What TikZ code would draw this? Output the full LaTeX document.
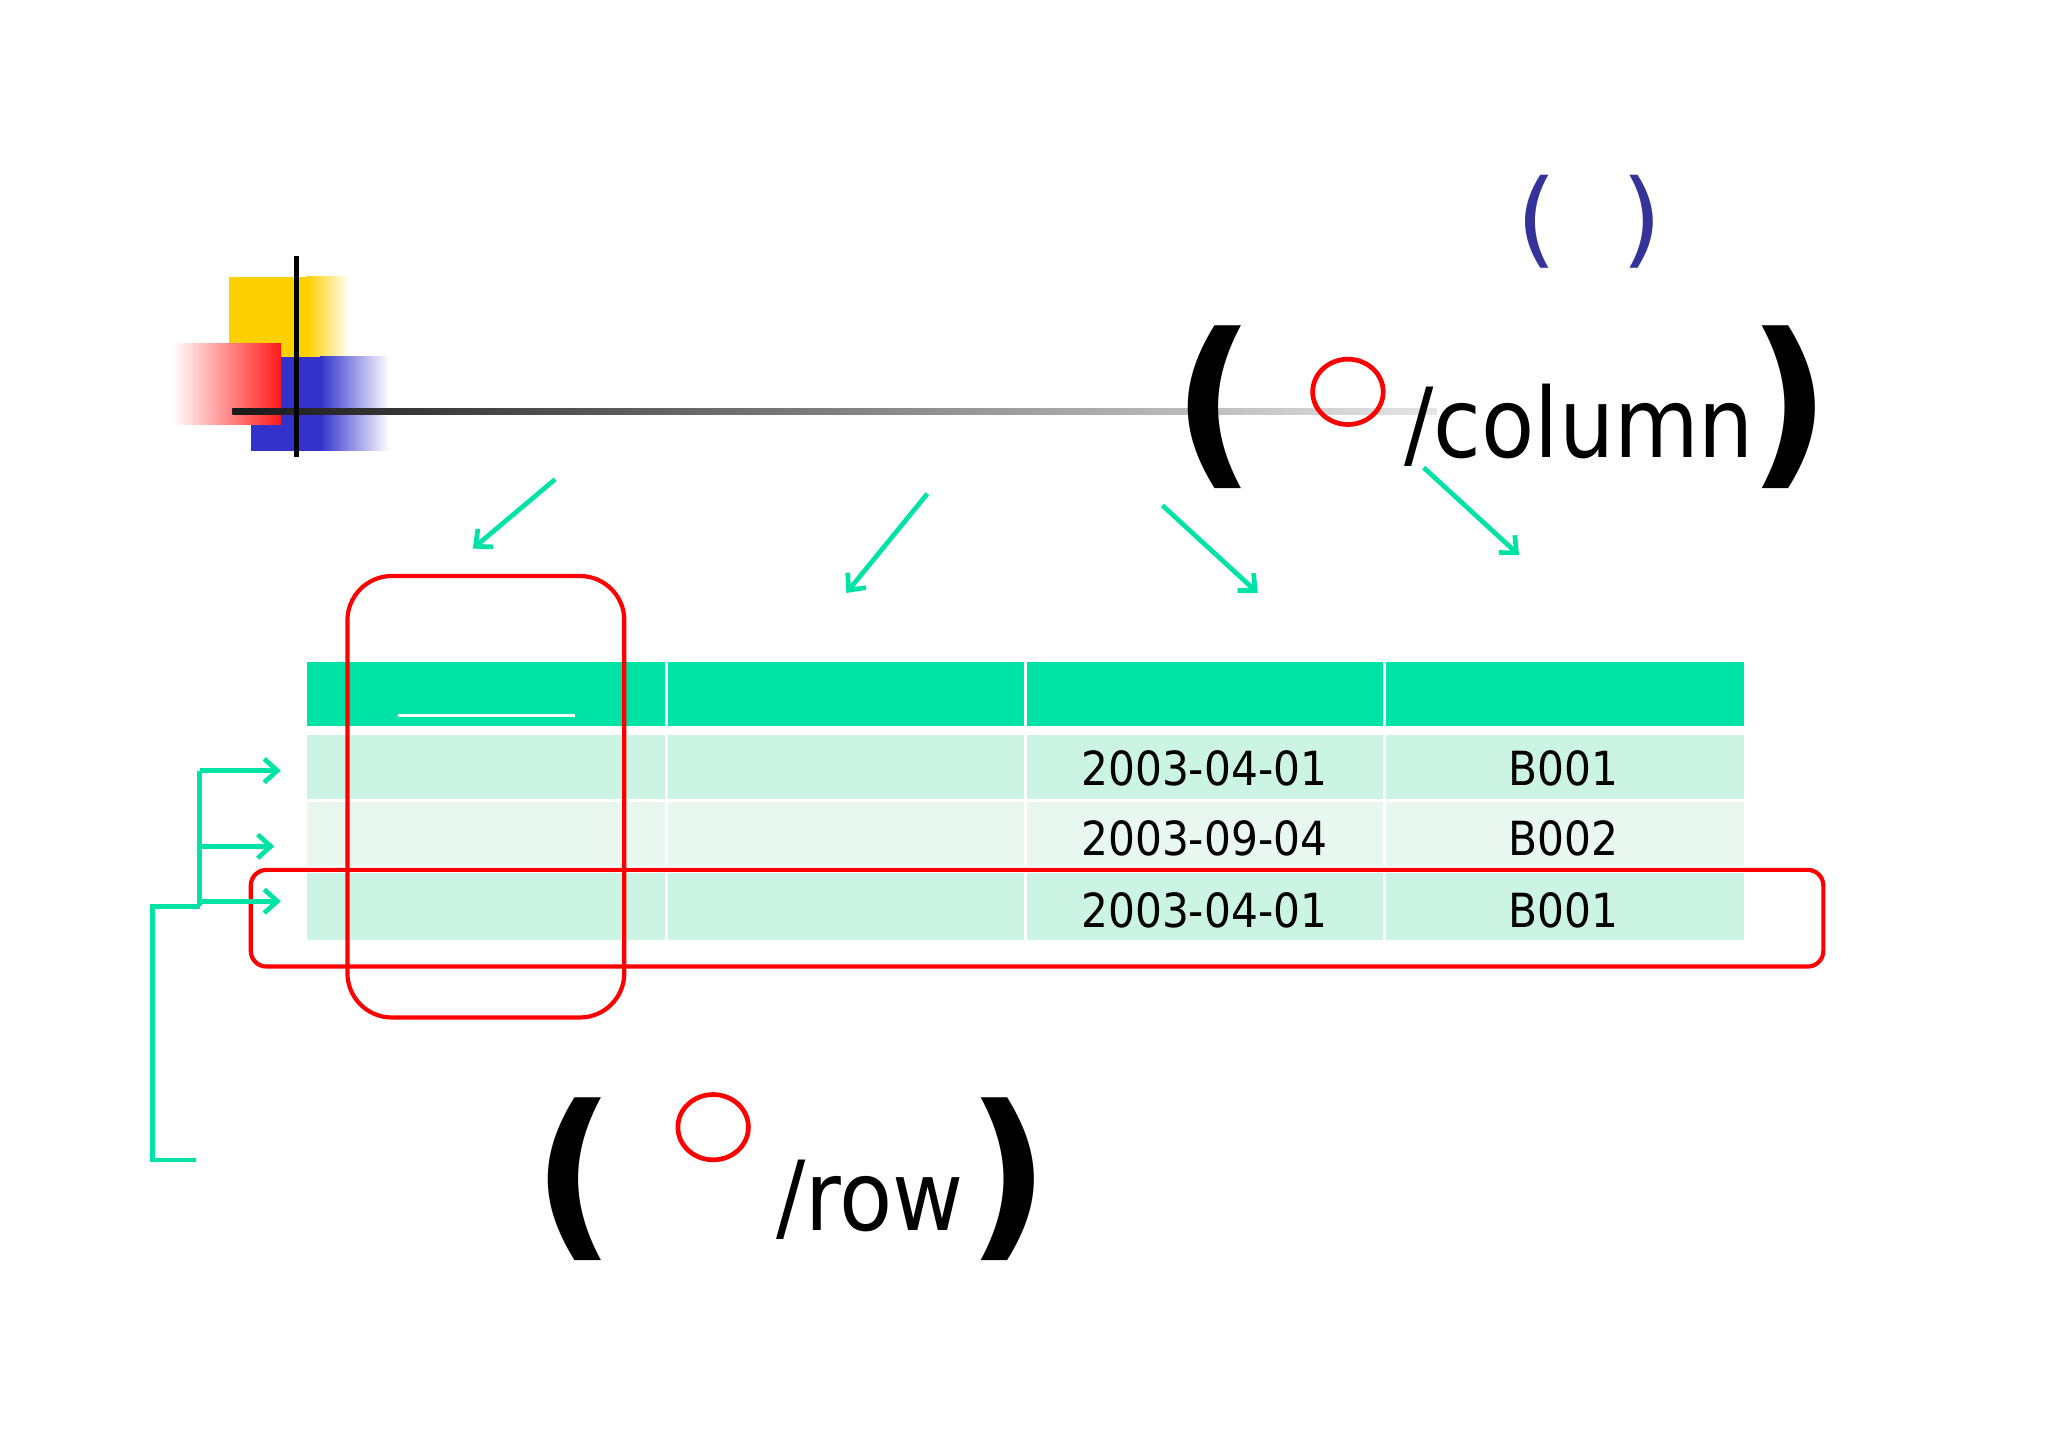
\documentclass[tikz,border=0pt]{standalone}
\usepackage{fontspec}
\setmainfont{DejaVu Sans}
\newfontfamily\cond{DejaVu Sans Condensed}
\usetikzlibrary{arrows.meta}
\definecolor{grn}{HTML}{00E3A6}
\definecolor{hdr}{HTML}{00E3A6}
\definecolor{rowa}{HTML}{CCF4E4}
\definecolor{rowb}{HTML}{E8F8F0}
\definecolor{navy}{HTML}{333399}
\definecolor{ylw}{HTML}{FFD000}
\definecolor{blu}{HTML}{3333CC}
\tikzset{
 garrow/.style={draw=grn,line width=1.8pt,-{Straight Barb[length=5pt,width=9pt]}},
 gline/.style={draw=grn,line width=1.8pt},
 redbox/.style={draw=red,line width=1.6pt},
 cell/.style={font=\cond\fontsize{18}{18}\selectfont},
 big/.style={font=\cond\fontsize{37}{40}\selectfont,inner sep=0pt},
 paren/.style={font=\bfseries\fontsize{70}{70}\selectfont,inner sep=0pt},
}
\begin{document}
\begin{tikzpicture}[x=0.5pt,y=-0.5pt]
\useasboundingbox (0,0) rectangle (1568,1109);
\fill[white] (0,0) rectangle (1568,1109);
% logo
\fill[ylw] (175,212) rectangle (235,290);
\shade[left color=ylw,right color=white] (235,212) rectangle (268,290);
\fill[blu] (192,273) rectangle (245,345);
\shade[left color=blu,right color=white] (245,273) rectangle (298,345);
\shade[left color=white,right color=red!90] (132,263) rectangle (215,325);
\shade[left color=black!90,right color=black!10] (178,313) rectangle (1100,317);
\draw[line width=2pt] (227,196) -- (227,350);
% header circles and parens
\node[inner sep=0pt,navy,font=\fontsize{40}{40}\selectfont] (bp1) at (1177,170) {(};
\node[inner sep=0pt,navy,font=\fontsize{40}{40}\selectfont] (bp2) at (1257,170) {)};
\node[paren] (cp1) at (930,312) {(};
\node[paren] (cp2) at (1370,312) {)};
\node[big,anchor=base west] (col) at (1075,350) {/column};
\draw[red,line width=1.8pt] (1032,300) ellipse [x radius=27,y radius=25];
\node[paren] (rp1) at (440,903) {(};
\node[paren] (rp2) at (772,903) {)};
\node[big,anchor=base west] (row) at (594,942) {/row};
\draw[red,line width=1.8pt] (546,863) ellipse [x radius=27,y radius=25];
% column arrows
\coordinate (a1) at (425,367); \coordinate (b1) at (362,420);
\coordinate (a2) at (710,378); \coordinate (b2) at (648,454);
\coordinate (a3) at (890,387); \coordinate (b3) at (963,454);
\coordinate (a4) at (1090,358); \coordinate (b4) at (1163,425);
\foreach \i in {1,2,3,4} \draw[garrow] (a\i) -- (b\i);
% table
\fill[hdr] (235,507) rectangle (1335,556);
\fill[rowa] (235,563) rectangle (1335,612);
\fill[rowb] (235,614) rectangle (1335,663);
\fill[rowa] (235,668) rectangle (1335,720);
\foreach \x in {510,785,1060} \draw[white,line width=1.2pt] (\x,507) -- (\x,720);
\draw[white,line width=1.2pt] (305,548) -- (440,548);
\node[cell] (c11) at (922,588) {2003-04-01};
\node[cell] (c12) at (1197,588) {B001};
\node[cell] (c21) at (922,642) {2003-09-04};
\node[cell] (c22) at (1197,642) {B002};
\node[cell] (c31) at (922,697) {2003-04-01};
\node[cell] (c32) at (1197,697) {B001};
% red boxes
\draw[redbox,rounded corners=17pt] (266,441) rectangle (478,779);
\draw[redbox,rounded corners=6pt] (192,666) rectangle (1396,740);
% left bracket
\coordinate (l0) at (150,888); \coordinate (l1) at (117,888); \coordinate (l2) at (117,694);
\coordinate (j) at (153,694); \coordinate (t) at (153,590);
\draw[gline] (l0) -- (l1) -- (l2) -- (j);
\draw[gline] (j) -- (t);
\coordinate (r1) at (215,590); \coordinate (s2) at (153,648); \coordinate (r2) at (210,648);
\coordinate (s3) at (153,690); \coordinate (r3) at (215,690);
\draw[garrow] (t) -- (r1);
\draw[garrow] (s2) -- (r2);
\draw[garrow] (s3) -- (r3);
\end{tikzpicture}
\end{document}
